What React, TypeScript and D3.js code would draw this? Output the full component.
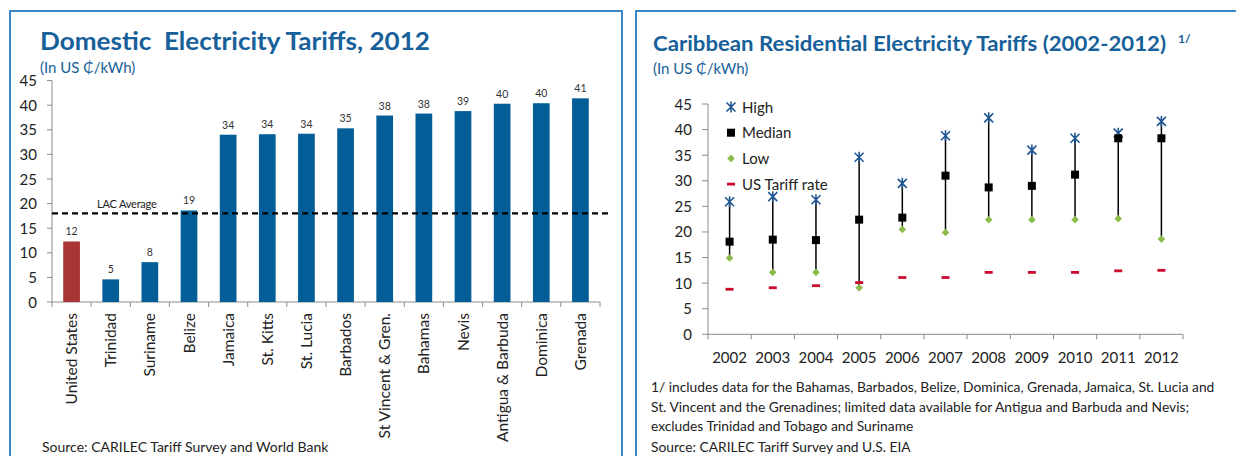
import * as d3 from 'd3';

// left chart: domestic tariffs 2012 (US cents/kWh)
const countries = ['United States', 'Trinidad', 'Suriname', 'Belize', 'Jamaica', 'St. Kitts', 'St. Lucia', 'Barbados',
  'St Vincent & Gren.', 'Bahamas', 'Nevis', 'Antigua & Barbuda', 'Dominica', 'Grenada'];
const tariffs2012 = [12.3, 4.6, 8.1, 18.6, 34.0, 34.1, 34.2, 35.3, 37.9, 38.3, 38.8, 40.3, 40.4, 41.4];
const lacAverage = 18.0;
const yTicks = [0, 5, 10, 15, 20, 25, 30, 35, 40, 45];

// right chart: caribbean residential tariffs 2002-2012
const years = ['2002', '2003', '2004', '2005', '2006', '2007', '2008', '2009', '2010', '2011', '2012'];
const high = [25.9, 26.9, 26.3, 34.6, 29.5, 38.8, 42.3, 36.0, 38.3, 39.3, 41.6];
const median = [18.1, 18.5, 18.4, 22.4, 22.8, 31.0, 28.7, 29.0, 31.2, 38.3, 38.3];
const low = [14.9, 12.1, 12.1, 9.1, 20.5, 19.9, 22.4, 22.4, 22.4, 22.6, 18.6];
const usRate = [8.8, 9.1, 9.5, 10.1, 11.1, 11.1, 12.1, 12.1, 12.1, 12.4, 12.5];
const legendItems = ['High', 'Median', 'Low', 'US Tariff rate'];

const footnote = [
  '1/ includes data for the Bahamas, Barbados, Belize, Dominica, Grenada, Jamaica, St. Lucia and',
  'St. Vincent and the Grenadines; limited data available for Antigua and Barbuda and Nevis;',
  'excludes Trinidad and Tobago and Suriname',
];

const FONT = 'Lato, "Noto Sans", sans-serif';
const TITLE_BLUE = '#17609a';
const BAR_BLUE = '#035e98';
const US_RED = '#a93434';
const AXIS = '#8c8c8c';
const BORDER = '#3a87c8';
const HIGH_C = '#1f5591';
const LOW_C = '#8bbb4b';
const USR_C = '#cc0a2f';

const starPath = 'M-4.5,-4.5L4.5,4.5M-4.5,4.5L4.5,-4.5M0,-5.5L0,5.5';

function Marker({ kind, x, y }: { kind: number; x: number; y: number }) {
  if (kind === 0) return <path d={starPath} transform={`translate(${x},${y})`} stroke={HIGH_C} strokeWidth={1.6} fill="none" />;
  if (kind === 1) return <rect x={x - 4} y={y - 4} width={8} height={8} fill="#000" />;
  if (kind === 2) return <path d="M0,-3.8L3.8,0L0,3.8L-3.8,0Z" transform={`translate(${x},${y})`} fill={LOW_C} />;
  return <rect x={x - 4} y={y - 1.4} width={8} height={2.8} fill={USR_C} />;
}

export default function App() {
  // left scales
  const yL = d3.scaleLinear().domain([0, 45]).range([302, 80.6]);
  const xL = d3.scaleBand<string>().domain(countries).range([52, 600]).paddingInner(0.573).paddingOuter(0.2865);
  const stepL = xL.step();

  // right scales
  const yR = d3.scaleLinear().domain([0, 45]).range([334.3, 104]);
  const xR = d3.scalePoint<string>().domain(years).range([708, 1183]).padding(0.5);
  const stepR = xR.step();
  const series = [high, median, low, usRate];

  return (
    <svg width={1236} height={456} style={{ position: 'absolute', left: 0, top: 0, fontFamily: FONT }}>
      <rect width={1236} height={456} fill="#fff" />
      {/* panel borders */}
      <path d="M10,470V11H622V470" fill="none" stroke={BORDER} strokeWidth={2} />
      <path d="M636,470V11H1240" fill="none" stroke={BORDER} strokeWidth={2} />

      {/* ---------- left chart ---------- */}
      <text x={40} y={50} fontSize={24} fontWeight="bold" fill={TITLE_BLUE} textLength={390}
        lengthAdjust="spacingAndGlyphs" style={{ whiteSpace: 'pre' }}>Domestic  Electricity Tariffs, 2012</text>
      <text x={40} y={73} fontSize={15} fill={TITLE_BLUE}>(In US ₵/kWh)</text>

      {yTicks.map(t => (
        <g key={t}>
          <line x1={47} x2={52} y1={yL(t)} y2={yL(t)} stroke={AXIS} />
          <text x={37} y={yL(t) + 5.5} fontSize={15} textAnchor="end" fill="#222">{t}</text>
        </g>
      ))}
      <line x1={52} x2={52} y1={yL(45)} y2={yL(0)} stroke={AXIS} />
      <line x1={52} x2={600} y1={yL(0)} y2={yL(0)} stroke={AXIS} />
      {d3.range(countries.length + 1).map(i => (
        <line key={i} x1={52 + i * stepL} x2={52 + i * stepL} y1={yL(0)} y2={yL(0) + 5} stroke={AXIS} />
      ))}

      {countries.map((c, i) => (
        <g key={c}>
          <rect x={xL(c)} y={yL(tariffs2012[i])} width={xL.bandwidth()} height={yL(0) - yL(tariffs2012[i])}
            fill={i === 0 ? US_RED : BAR_BLUE} />
          <text x={xL(c)! + xL.bandwidth() / 2} y={yL(tariffs2012[i]) - 6} fontSize={10.5} textAnchor="middle"
            fill="#333">{Math.round(tariffs2012[i])}</text>
          <text transform={`translate(${xL(c)! + xL.bandwidth() / 2 + 5.5},${yL(0) + 11}) rotate(-90)`}
            fontSize={15.5} textAnchor="end" fill="#222">{c}</text>
        </g>
      ))}

      <line x1={52} x2={612} y1={yL(lacAverage)} y2={yL(lacAverage)} stroke="#000" strokeWidth={2.2}
        strokeDasharray="6,4" />
      <text x={97} y={yL(lacAverage) - 5} fontSize={11} fill="#222" letterSpacing={-0.2}>LAC Average</text>

      <text x={42} y={452} fontSize={14} fill="#222">Source: CARILEC Tariff Survey and World Bank</text>

      {/* ---------- right chart ---------- */}
      <text x={653} y={51} fontSize={20} fontWeight="bold" fill={TITLE_BLUE} textLength={513}
        lengthAdjust="spacingAndGlyphs">Caribbean Residential Electricity Tariffs (2002-2012)</text>
      <text x={1178} y={43} fontSize={12} fontWeight="bold" fill={TITLE_BLUE}>1/</text>
      <text x={653} y={74} fontSize={15} fill={TITLE_BLUE}>(In US ₵/kWh)</text>

      {yTicks.map(t => (
        <g key={t}>
          <line x1={702} x2={708} y1={yR(t)} y2={yR(t)} stroke={AXIS} />
          <text x={692} y={yR(t) + 5.5} fontSize={15} textAnchor="end" fill="#222">{t}</text>
        </g>
      ))}
      <line x1={708} x2={708} y1={yR(45)} y2={yR(0)} stroke={AXIS} />
      <line x1={708} x2={1183} y1={yR(0)} y2={yR(0)} stroke={AXIS} />
      {d3.range(years.length + 1).map(i => (
        <line key={i} x1={708 + i * stepR} x2={708 + i * stepR} y1={yR(0)} y2={yR(0) + 5} stroke={AXIS} />
      ))}
      {years.map(y => (
        <text key={y} x={xR(y)} y={363} fontSize={15} textAnchor="middle" fill="#222">{y}</text>
      ))}

      {years.map((y, i) => (
        <line key={'v' + y} x1={xR(y)} x2={xR(y)} y1={yR(high[i])} y2={yR(low[i])} stroke="#000" strokeWidth={1.5} />
      ))}
      {series.map((s, k) => years.map((y, i) => (
        <Marker key={k + y} kind={k} x={xR(y)!} y={yR(s[i])} />
      )))}

      {legendItems.map((l, k) => (
        <g key={l}>
          <Marker kind={k} x={731} y={107 + k * 25.7} />
          <text x={742} y={107 + k * 25.7 + 5.5} fontSize={15} fill="#222">{l}</text>
        </g>
      ))}

      {footnote.map((f, i) => (
        <text key={i} x={651} y={392 + i * 19.5} fontSize={13.8} fill="#222">{f}</text>
      ))}
      <text x={651} y={452} fontSize={13.8} fill="#222">Source: CARILEC Tariff Survey and U.S. EIA</text>
    </svg>
  );
}
